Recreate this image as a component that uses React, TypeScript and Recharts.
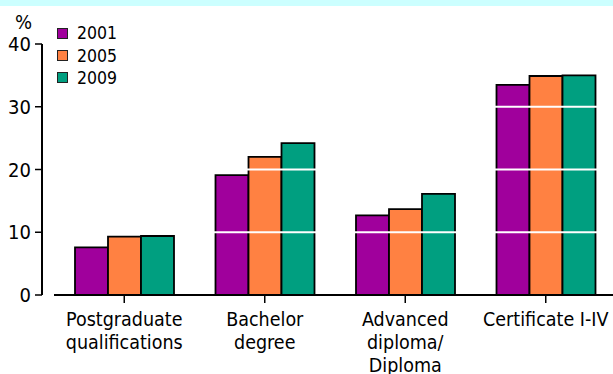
import { BarChart, Bar, XAxis, YAxis, ReferenceLine } from 'recharts';

const categories = ['Postgraduate qualifications', 'Bachelor degree', 'Advanced diploma/ Diploma', 'Certificate I-IV'];
const labelLines = [['Postgraduate', 'qualifications'], ['Bachelor', 'degree'], ['Advanced', 'diploma/', 'Diploma'], ['Certificate I-IV']];
const values2001 = [7.6, 19.1, 12.7, 33.5];
const values2005 = [9.3, 22.0, 13.7, 34.9];
const values2009 = [9.4, 24.2, 16.1, 35.0];
const yTicks = [0, 10, 20, 30, 40];
const whiteLines = [10, 20, 30];

const series = [
  { key: 'y2001', name: '2001', color: '#a0009c' },
  { key: 'y2005', name: '2005', color: '#ff8142' },
  { key: 'y2009', name: '2009', color: '#009f80' },
];

const chartData = categories.map((c, i) => ({
  category: c,
  y2001: values2001[i],
  y2005: values2005[i],
  y2009: values2009[i],
}));

const FONT = "'DejaVu Sans Condensed', 'DejaVu Sans', sans-serif";

function CategoryTick(props: any) {
  const { x, y, payload } = props;
  const lines = labelLines[categories.indexOf(payload.value)] || [payload.value];
  return (
    <text x={x} y={y + 21} textAnchor="middle" fontSize={19.5} fontFamily={FONT} fill="#000">
      {lines.map((l, i) => (
        <tspan key={i} x={x} dy={i === 0 ? 0 : 23}>{l}</tspan>
      ))}
    </text>
  );
}

// x axis line starts a bit right of the y axis
function AxisBase(props: any) {
  const { x1, x2, y1 } = props;
  return <line x1={x1 + 12} x2={x2} y1={y1} y2={y1} stroke="#000" strokeWidth={2} />;
}

export default function App() {
  return (
    <div style={{ position: 'absolute', left: 0, top: 0, width: 613, height: 374, overflow: 'hidden', background: '#fff' }}>
      <div style={{ position: 'absolute', left: 0, top: 0, width: 613, height: 6, background: '#ccffff' }} />
      <BarChart
        width={620}
        height={374}
        data={chartData}
        margin={{ top: 44, right: 4, bottom: 0, left: 0 }}
        barCategoryGap={21}
        barGap={0}
      >
        <XAxis
          dataKey="category"
          height={79}
          axisLine={false}
          tickLine={{ stroke: '#000', strokeWidth: 1.5 }}
          tickSize={8}
          padding={{ left: 12, right: 0 }}
          interval={0}
          tick={<CategoryTick />}
        />
        <YAxis
          width={42}
          domain={[0, 40]}
          ticks={yTicks}
          axisLine={{ stroke: '#000', strokeWidth: 2 }}
          tickLine={{ stroke: '#000', strokeWidth: 1.5 }}
          tickSize={7}
          tickMargin={4}
          tick={{ fontSize: 20, fontFamily: FONT, fill: '#000' }}
        />
        {series.map((s) => (
          <Bar key={s.key} dataKey={s.key} name={s.name} fill={s.color} stroke="#000" strokeWidth={1.8} isAnimationActive={false} />
        ))}
        {whiteLines.map((v) => (
          <ReferenceLine key={v} y={v} stroke="#fff" strokeWidth={2} />
        ))}
        <ReferenceLine y={0} shape={<AxisBase />} />
      </BarChart>
      <div style={{ position: 'absolute', left: 15, top: 12, fontSize: 20, lineHeight: '20px', fontFamily: FONT, color: '#000' }}>%</div>
      <div style={{ position: 'absolute', left: 57, top: 22, fontFamily: FONT, fontSize: 17.5, color: '#000' }}>
        {series.map((s) => (
          <div key={s.key} style={{ display: 'flex', alignItems: 'center', height: 22.4 }}>
            <span style={{ display: 'inline-block', width: 11, height: 11, boxSizing: 'border-box', border: '1.5px solid #222', background: s.color, marginRight: 9 }} />
            <span>{s.name}</span>
          </div>
        ))}
      </div>
    </div>
  );
}
